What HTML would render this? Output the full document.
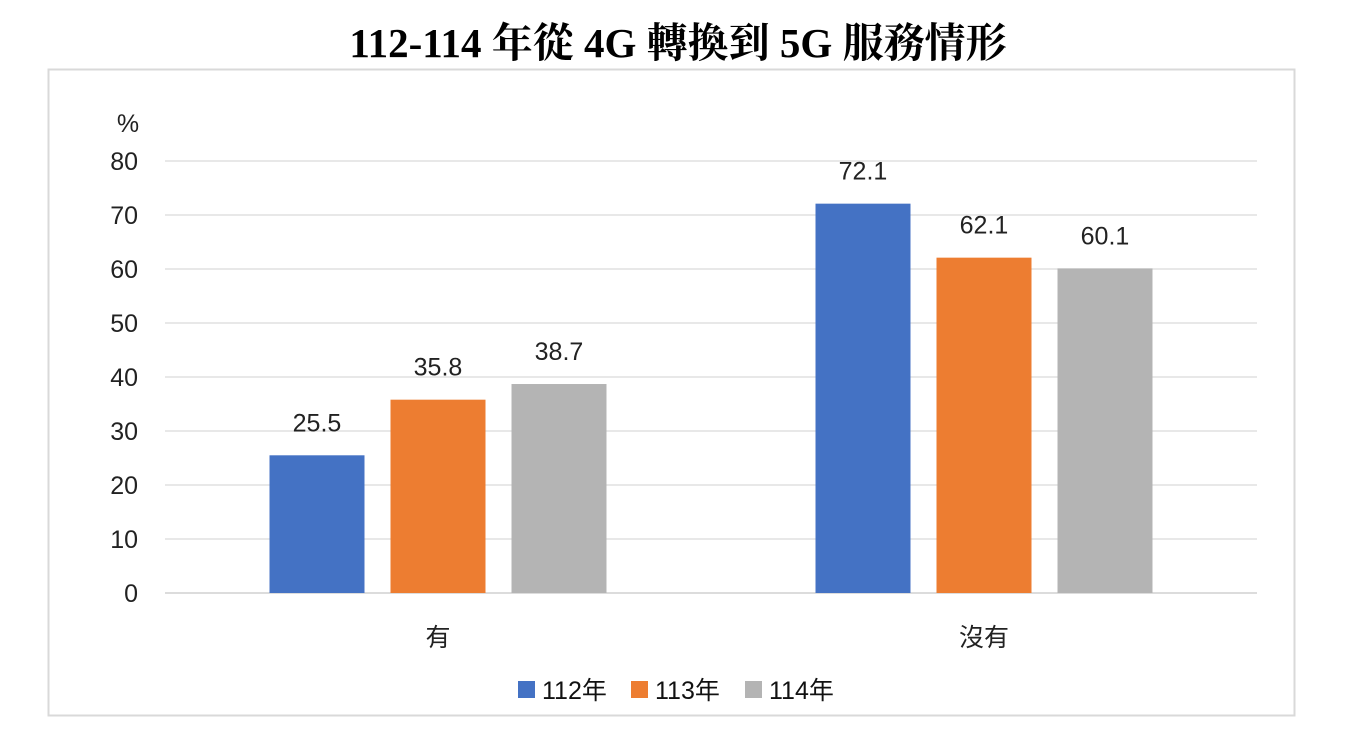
<!DOCTYPE html>
<html><head><meta charset="utf-8"><style>
body{margin:0;background:#fff;width:1356px;height:724px;overflow:hidden}
svg text{font-family:"Liberation Sans","Noto Sans CJK TC",sans-serif}
</style></head><body>
<svg id="c" width="1356" height="724">
<text x="678" y="57" text-anchor="middle" font-size="41" font-weight="bold" style="font-family:'Liberation Serif','Noto Serif CJK SC',serif">112-114 年從 4G 轉換到 5G 服務情形</text>
<rect x="48.5" y="69.5" width="1246" height="646" fill="none" stroke="#d9d9d9" stroke-width="2"/>
<text x="128" y="132" text-anchor="middle" font-size="25" fill="#222">%</text>
</svg>
<script>
const categories=["有","沒有"];
const seriesNames=["112年","113年","114年"];
const colors=["#4472c4","#ed7d31","#b4b4b4"];
const values=[[25.5,72.1],[35.8,62.1],[38.7,60.1]];
const yTicks=[0,10,20,30,40,50,60,70,80];
const svg=document.getElementById('c');const NS='http://www.w3.org/2000/svg';
function mk(t,a){const e=document.createElementNS(NS,t);for(const k in a)e.setAttribute(k,a[k]);svg.appendChild(e);return e;}
const x0=165,x1=1257,yb=593,yt=161,ymax=80;
const y=v=>yb-(v/ymax)*(yb-yt);
const bw=(x1-x0)/categories.length;
yTicks.forEach(t=>{
 const l=mk('line',{x1:x0,x2:x1,y1:y(t),y2:y(t),stroke:t===0?'#d0d0d0':'#e0e0e0','stroke-width':1.5});
 
 
 const tx=mk('text',{x:138,y:y(t)+9,'text-anchor':'end','font-size':25,fill:'#222'});tx.textContent=t;
 
 
});
const barW=95,gap=26;
categories.forEach((c,ci)=>{
 const cx=x0+bw*(ci+0.5);
 const tx=mk('text',{x:cx,y:646,'text-anchor':'middle','font-size':25,fill:'#222'});tx.textContent=c;
 
 
 seriesNames.forEach((s,si)=>{
  const v=values[si][ci];
  const bx=cx+(si-1)*(barW+gap)-barW/2;
  const r=mk('rect',{x:bx,y:y(v),width:barW,height:yb-y(v),fill:colors[si]});
  
  
  const lt=mk('text',{x:bx+barW/2,y:y(v)-24,'text-anchor':'middle','font-size':25,fill:'#222'});lt.textContent=v.toFixed(1);
  
  
 });
});
const lx=[518,631,745];
seriesNames.forEach((s,si)=>{
 const r=mk('rect',{x:lx[si],y:681,width:17,height:17,fill:colors[si]});
 
 
 const t=mk('text',{x:lx[si]+24,y:699,'font-size':25,fill:'#111'});t.textContent=s;
 
 
});
</script>
</body></html>
